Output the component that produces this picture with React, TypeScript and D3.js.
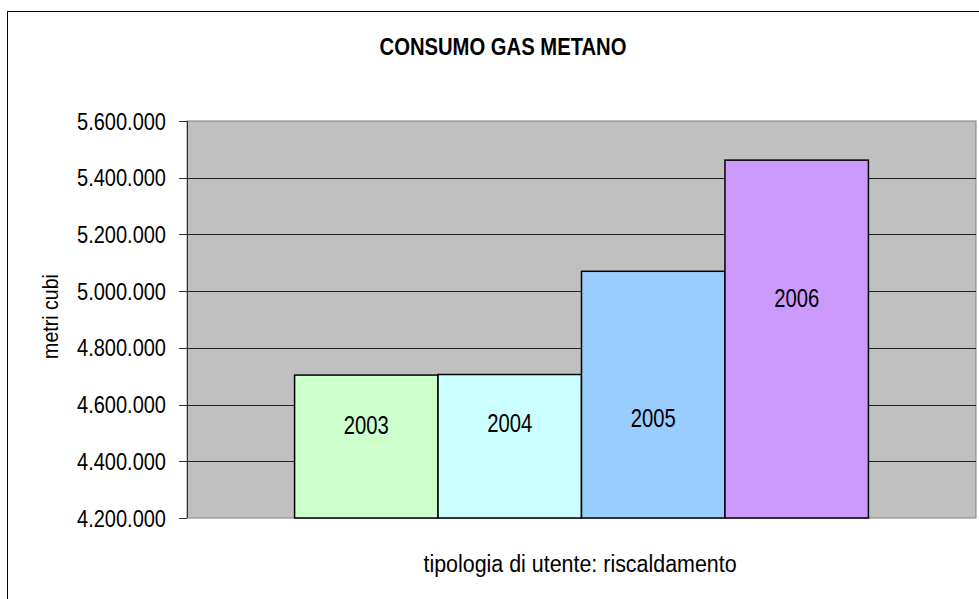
import React, { useEffect, useRef } from 'react';
import * as d3 from 'd3';

const years = ['2003', '2004', '2005', '2006'];
const consumption = [4704000, 4706000, 5070000, 5462000];
const labelAnchors = [4528000, 4535000, 4553000, 4976000];
const barColors = ['#CCFFCC', '#CCFFFF', '#99CCFF', '#CC99FF'];
const yTicks = [4200000, 4400000, 4600000, 4800000, 5000000, 5200000, 5400000, 5600000];

const title = 'CONSUMO GAS METANO';
const yTitle = 'metri cubi';
const xTitle = 'tipologia di utente: riscaldamento';

const W = 979;
const H = 599;
const FONT = "'Liberation Sans', Arial, sans-serif";

// italian style thousands separator
const fmt = (v: number) => d3.format(',')(v).replace(/,/g, '.');

const App: React.FC = () => {
  const ref = useRef<SVGSVGElement>(null);

  useEffect(() => {
    if (!ref.current) return;
    const svg = d3.select(ref.current);
    svg.selectAll('*').remove();

    const plot = { left: 187, top: 121, right: 976, bottom: 518 };

    const x = d3
      .scaleBand()
      .domain(years)
      .range([plot.left, plot.right])
      .paddingInner(0)
      .paddingOuter(0.75);

    const y = d3.scaleLinear().domain([4200000, 5600000]).range([plot.bottom, plot.top]);

    // chart frame (runs off the picture on right and bottom)
    svg
      .append('rect')
      .attr('x', 7.5)
      .attr('y', 11.5)
      .attr('width', 1000)
      .attr('height', 620)
      .attr('fill', '#fff')
      .attr('stroke', '#000')
      .attr('stroke-width', 1);

    // plot area
    svg
      .append('rect')
      .attr('x', plot.left)
      .attr('y', plot.top)
      .attr('width', plot.right - plot.left)
      .attr('height', plot.bottom - plot.top)
      .attr('fill', '#C0C0C0')
      .attr('stroke', '#808080')
      .attr('stroke-width', 1);

    // gridlines
    svg
      .append('g')
      .selectAll('line')
      .data(yTicks.slice(1, -1))
      .enter()
      .append('line')
      .attr('x1', plot.left)
      .attr('x2', plot.right)
      .attr('y1', (d) => Math.round(y(d)) + 0.5)
      .attr('y2', (d) => Math.round(y(d)) + 0.5)
      .attr('stroke', '#222')
      .attr('stroke-width', 1);

    // bars
    svg
      .append('g')
      .selectAll('rect')
      .data(consumption)
      .enter()
      .append('rect')
      .attr('x', (_, i) => x(years[i])!)
      .attr('y', (d) => y(d))
      .attr('width', x.bandwidth())
      .attr('height', (d) => plot.bottom - y(d))
      .attr('fill', (_, i) => barColors[i])
      .attr('stroke', '#000')
      .attr('stroke-width', 1.5);

    // y axis line + ticks
    const axis = svg.append('g');
    axis
      .append('line')
      .attr('x1', plot.left + 0.5)
      .attr('x2', plot.left + 0.5)
      .attr('y1', plot.top)
      .attr('y2', plot.bottom)
      .attr('stroke', '#333')
      .attr('stroke-width', 1);
    axis
      .selectAll('line.tick')
      .data(yTicks)
      .enter()
      .append('line')
      .attr('class', 'tick')
      .attr('x1', plot.left - 8)
      .attr('x2', plot.left)
      .attr('y1', (d) => Math.round(y(d)) + 0.5)
      .attr('y2', (d) => Math.round(y(d)) + 0.5)
      .attr('stroke', '#333');

    const text = (
      g: d3.Selection<any, any, any, any>,
      tx: number,
      ty: number,
      str: string,
      size: number,
      sx: number,
      anchor: string,
      rotate = 0,
      weight = 'normal'
    ) =>
      g
        .append('text')
        .attr('transform', `translate(${tx},${ty}) rotate(${rotate}) scale(${sx},1)`)
        .attr('text-anchor', anchor)
        .attr('font-family', FONT)
        .attr('font-size', size)
        .attr('font-weight', weight)
        .attr('fill', '#000')
        .text(str);

    yTicks.forEach((t) => text(svg, 166, y(t) + 8.5, fmt(t), 23, 0.87, 'end'));

    // bar labels
    years.forEach((yr, i) =>
      text(svg, x(yr)! + x.bandwidth() / 2, y(labelAnchors[i]) + 9, yr, 25, 0.81, 'middle')
    );

    text(svg, 503, 55, title, 23, 0.88, 'middle', 0, 'bold');
    text(svg, 58, 316.5, yTitle, 22.5, 0.87, 'middle', -90);
    text(svg, 580, 572, xTitle, 24.5, 0.875, 'middle');
  }, []);

  return <svg ref={ref} width={W} height={H} style={{ position: 'absolute', left: 0, top: 0 }}></svg>;
};

export default App;
